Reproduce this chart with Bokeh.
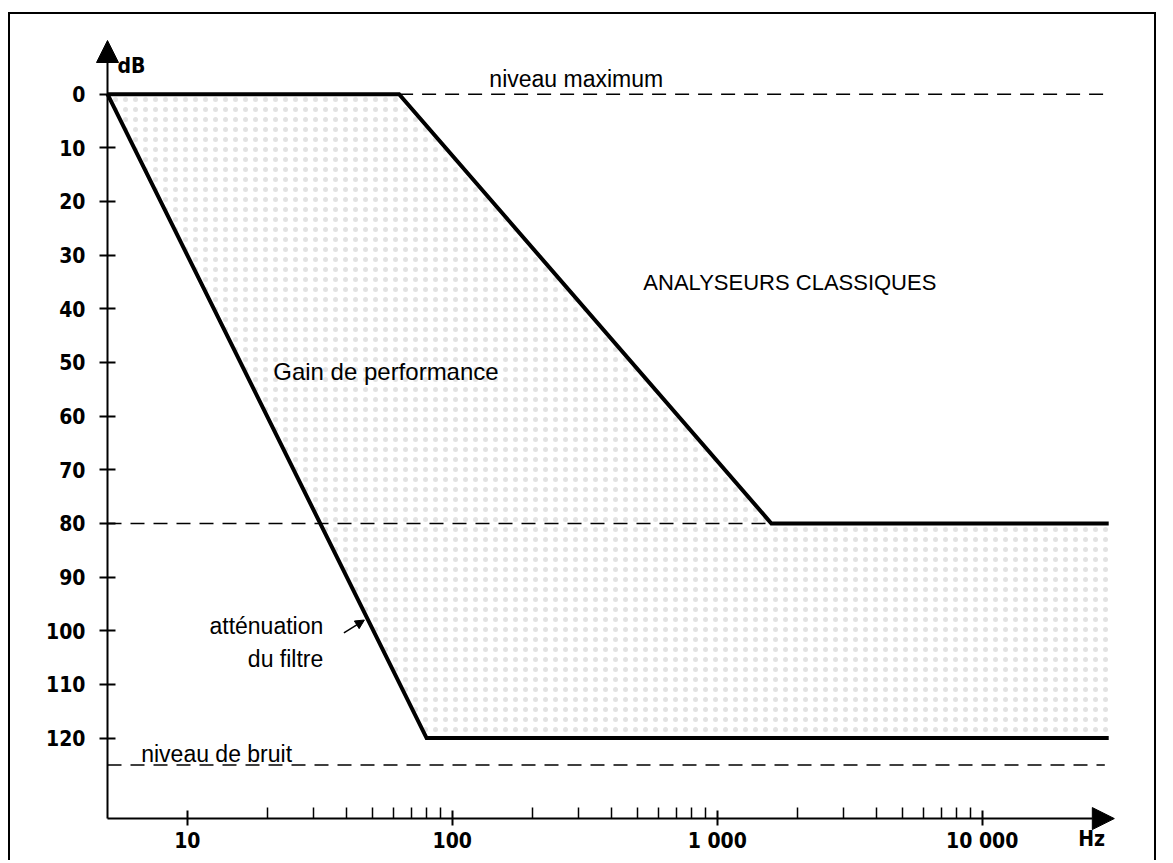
from bokeh.plotting import figure
from bokeh.models import Range1d, FixedTicker, Arrow, NormalHead, Label, CustomJSTickFormatter
from bokeh.embed import file_html
from bokeh.resources import INLINE

# ---- data ----
filter_freq = [5, 80, 30000]          # Hz  - "atténuation du filtre"
filter_db = [0, 120, 120]             # dB
classic_freq = [5, 63, 1600, 30000]   # Hz  - analyseurs classiques
classic_db = [0, 0, 80, 80]
max_level_freq = [63, 29000]          # niveau maximum (dashed)
max_level_db = [0, 0]
classic_floor_freq = [5, 1600]        # dashed 80 dB
classic_floor_db = [80, 80]
noise_freq = [5, 29000]               # niveau de bruit (dashed)
noise_db = [125, 125]

x_major = [10, 100, 1000, 10000]
x_labels = ["10", "100", "1 000", "10 000"]
x_minor = [m * d for d in (10, 100, 1000) for m in range(2, 10)]
y_ticks = [0, 10, 20, 30, 40, 50, 60, 70, 80, 90, 100, 110, 120]

# axis extents (origin and arrow tips)
F_MIN, F_MAX = 5, 31500
DB_TOP, DB_BOTTOM = -10, 135

BOLD = "DejaVu Sans Condensed"
REG = "Liberation Sans"

# ---- layout: the frame fills the whole canvas (inside the drawn box) ----
W, H = 1148, 848
PX_DEC = 265.0       # pixels per decade
PX_DB = 5.366        # pixels per dB
ORIGIN_X = 97        # canvas px of F_MIN
TOP_Y = 26           # canvas px of DB_TOP
x_start = F_MIN * 10 ** (-ORIGIN_X / PX_DEC)
x_end = F_MIN * 10 ** ((W - ORIGIN_X) / PX_DEC)
y_top = DB_TOP - TOP_Y / PX_DB
y_bottom = DB_TOP + (H - TOP_Y) / PX_DB

p = figure(width=W, height=H, x_axis_type="log",
           x_range=Range1d(x_start, x_end), y_range=Range1d(y_bottom, y_top),
           output_backend="svg", toolbar_location=None,
           min_border_left=0, min_border_right=0,
           min_border_top=0, min_border_bottom=0)
p.grid.visible = False
p.outline_line_color = None
p.background_fill_color = "white"
p.border_fill_color = "white"
p.styles = {"border-top": "2px solid black", "border-left": "2px solid black",
            "border-right": "2px solid black", "margin-top": "12px",
            "margin-left": "8px"}

# x axis (drawn inside the frame at the origin)
p.xaxis.fixed_location = DB_BOTTOM
p.xaxis.ticker = FixedTicker(ticks=x_major, minor_ticks=x_minor)
p.xaxis.formatter = CustomJSTickFormatter(args=dict(major_vals=x_major, major_labs=x_labels), code="""
const i = major_vals.findIndex(t => Math.abs(t - tick) < 1e-6 * t);
return i >= 0 ? major_labs[i] : '';
""")
p.xaxis.major_tick_line_width = 2
p.xaxis.minor_tick_line_width = 1.5
p.xaxis.major_tick_in = 8
p.xaxis.major_tick_out = 7
p.xaxis.minor_tick_in = 11
p.xaxis.minor_tick_out = 0
p.xaxis.major_label_standoff = 3

# y axis
p.yaxis.fixed_location = F_MIN
p.yaxis.ticker = FixedTicker(ticks=y_ticks, minor_ticks=[])
p.yaxis.major_tick_line_width = 2
p.yaxis.major_tick_in = 8
p.yaxis.major_tick_out = 8
p.yaxis.major_label_standoff = 14

for ax in (p.xaxis, p.yaxis):
    ax.axis_line_color = None
    ax.major_label_text_font = BOLD
    ax.major_label_text_font_style = "bold"
    ax.major_label_text_font_size = "21px"
    ax.major_label_text_color = "black"
    ax.major_tick_line_color = "black"
    ax.minor_tick_line_color = "black"

# shaded "gain de performance" region
gain_x = filter_freq + classic_freq[::-1]
gain_y = filter_db + classic_db[::-1]
p.patch(gain_x, gain_y, fill_color=None, line_color=None,
        hatch_pattern="dot", hatch_color="#e2e2e2", hatch_scale=10, hatch_weight=1)

# dashed reference levels
for fx, fy in ((max_level_freq, max_level_db), (classic_floor_freq, classic_floor_db),
               (noise_freq, noise_db)):
    p.line(fx, fy, line_color="black", line_width=1.5, line_dash="14 9")

# curves
p.line(classic_freq, classic_db, line_color="black", line_width=4, line_join="miter")
p.line(filter_freq, filter_db, line_color="black", line_width=4, line_join="miter")

# axis lines with arrow heads
p.add_layout(Arrow(end=NormalHead(size=22, fill_color="black", line_color="black"),
                   x_start=F_MIN, y_start=DB_BOTTOM, x_end=F_MIN, y_end=DB_TOP,
                   line_width=2))
p.add_layout(Arrow(end=NormalHead(size=22, fill_color="black", line_color="black"),
                   x_start=F_MIN, y_start=DB_BOTTOM, x_end=F_MAX, y_end=DB_BOTTOM,
                   line_width=2))
# pointer to the filter line
p.add_layout(Arrow(end=NormalHead(size=9, fill_color="black", line_color="black"),
                   x_start=39, y_start=100.4, x_end=46.6, y_end=98.0, line_width=1.5))

def lab(x, y, text, font=REG, size="23px", style="normal", align="left",
        baseline="alphabetic", x_offset=0):
    p.add_layout(Label(x=x, y=y, text=text, text_font=font, text_font_size=size,
                       text_font_style=style, text_align=align, text_baseline=baseline,
                       x_offset=x_offset, text_color="black"))

lab(F_MIN, -5.2, "dB", font=BOLD, size="21px", style="bold", baseline="middle", x_offset=10)
lab(23000, 136.5, "Hz", font=BOLD, size="21px", style="bold", baseline="top")
lab(138, -2.8, "niveau maximum")
lab(526, 35.1, "ANALYSEURS CLASSIQUES", size="22px")
lab(21.1, 51.6, "Gain de performance", size="24px")
lab(32.6, 99.1, "atténuation", align="right")
lab(32.6, 105.2, "du filtre", align="right")
lab(6.7, 122.9, "niveau de bruit")

with open("out.html", "w", encoding="utf-8") as f:
    f.write(file_html(p, INLINE))
